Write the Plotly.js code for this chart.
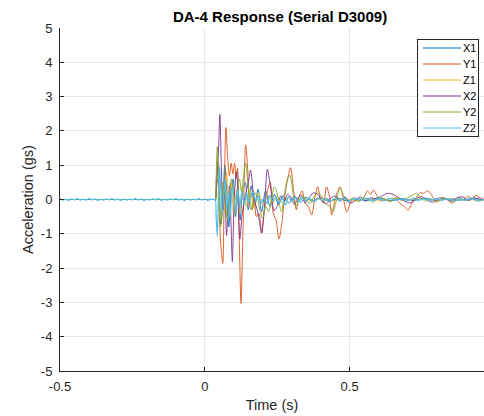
<!DOCTYPE html>
<html>
<head>
<meta charset="utf-8">
<script src="https://cdn.plot.ly/plotly-3.0.1.min.js"></script>
<style>html,body{margin:0;padding:0;background:#fff;}#chart{width:484px;height:416px;}</style>
</head>
<body>
<div id="chart"></div>
<script>
// ---- data ----
var seriesNames = ['X1', 'Y1', 'Z1', 'X2', 'Y2', 'Z2'];
var seriesColors = ['#0072BD', '#D95319', '#EDB120', '#7E2F8E', '#77AC30', '#4DBEEE'];

var xTickVals = [-0.5, 0, 0.5];
var xTickText = ['-0.5', '0', '0.5'];
var yTickVals = [-5, -4, -3, -2, -1, 0, 1, 2, 3, 4, 5];
var yTickText = ['-5', '-4', '-3', '-2', '-1', '0', '1', '2', '3', '4', '5'];

var tX1 = [-0.5, 0.0, 0.030, 0.036, 0.040, 0.045, 0.050, 0.056, 0.062, 0.069, 0.076, 0.083, 0.090, 0.098, 0.106, 0.114, 0.122, 0.130, 0.140, 0.150, 0.160, 0.172, 0.184, 0.196, 0.210, 0.225, 0.240, 0.255, 0.270, 0.290, 0.310, 0.330, 0.350, 0.375, 0.400, 0.430, 0.460, 0.490, 0.520, 0.560, 0.600, 0.640, 0.680, 0.720, 0.760, 0.800, 0.840, 0.880, 0.920, 0.960];
var yX1 = [0, 0, 0, 0, 0.6, 1.1, 0.3, -0.7, -0.2, 1.0, 0.2, -0.8, 0.1, 0.6, -0.5, 0.4, -0.6, 0.2, 0.5, -0.3, 0.4, -0.2, 0.3, -0.35, 0.25, -0.2, 0.15, -0.15, 0.12, -0.1, 0.1, -0.08, 0.06, -0.06, 0.05, -0.05, 0.04, -0.04, 0.03, -0.03, 0.05, -0.04, 0.03, -0.03, 0.04, -0.03, 0.02, -0.02, 0.03, 0];

var tY1 = [-0.5, 0.0, 0.030, 0.036, 0.040, 0.045, 0.050, 0.056, 0.062, 0.067, 0.073, 0.079, 0.085, 0.091, 0.097, 0.103, 0.108, 0.113, 0.119, 0.125, 0.132, 0.141, 0.148, 0.155, 0.162, 0.170, 0.178, 0.187, 0.196, 0.206, 0.216, 0.226, 0.236, 0.246, 0.256, 0.266, 0.276, 0.286, 0.296, 0.306, 0.316, 0.326, 0.336, 0.346, 0.357, 0.369, 0.380, 0.390, 0.400, 0.410, 0.420, 0.430, 0.438, 0.447, 0.457, 0.467, 0.478, 0.490, 0.503, 0.517, 0.532, 0.548, 0.562, 0.572, 0.582, 0.594, 0.608, 0.624, 0.640, 0.656, 0.672, 0.688, 0.702, 0.716, 0.730, 0.744, 0.756, 0.768, 0.780, 0.792, 0.806, 0.822, 0.838, 0.852, 0.866, 0.880, 0.894, 0.908, 0.922, 0.936, 0.950, 0.966];
var yY1 = [0, 0, 0, 0, 0.4, 0.6, -0.5, -1.4, -1.86, 0.2, 2.1, 1.2, 0.7, 1.06, 0.75, 1.06, 0.6, 0.92, -1.2, -3.03, -0.8, 1.59, 0.9, -0.2, -0.3, 0.1, -0.5, -0.4, -0.98, -0.3, 0.25, 0.5, -0.4, -0.6, -1.15, -0.7, 0.1, 0.6, 0.93, 0.3, -0.3, 0.1, 0.25, -0.1, -0.2, -0.45, 0.05, 0.37, 0.0, -0.1, 0.37, 0.1, -0.45, -0.1, 0.2, 0.37, 0.05, -0.36, -0.1, 0.05, -0.05, 0.05, 0.25, 0.15, 0.28, 0.12, -0.05, 0.0, -0.05, 0.05, -0.1, -0.2, -0.31, -0.1, 0.05, 0.2, 0.18, 0.25, 0.18, 0.0, -0.05, 0.05, 0.0, -0.1, -0.05, 0.05, 0.0, 0.1, 0.02, 0.12, 0.05, 0.0];

var tZ1 = [-0.5, 0.0, 0.030, 0.036, 0.040, 0.044, 0.049, 0.055, 0.061, 0.068, 0.075, 0.083, 0.091, 0.100, 0.110, 0.120, 0.131, 0.143, 0.156, 0.170, 0.185, 0.200, 0.216, 0.233, 0.250, 0.270, 0.290, 0.315, 0.340, 0.370, 0.400, 0.440, 0.480, 0.520, 0.560, 0.600, 0.650, 0.700, 0.750, 0.800, 0.850, 0.900, 0.966];
var yZ1 = [0, 0, 0, 0, 0.5, 1.25, 0.4, -0.6, 0.5, -0.4, 0.8, -0.3, 0.5, -0.5, 0.3, -0.4, 0.4, -0.2, 0.3, -0.25, 0.2, -0.15, 0.15, -0.12, 0.1, -0.1, 0.08, -0.06, 0.05, -0.05, 0.04, -0.03, 0.03, -0.03, 0.02, -0.02, 0.03, -0.02, 0.02, -0.02, 0.02, -0.01, 0];

var tX2 = [-0.5, 0.0, 0.030, 0.036, 0.040, 0.044, 0.048, 0.052, 0.057, 0.063, 0.069, 0.075, 0.080, 0.085, 0.090, 0.095, 0.100, 0.105, 0.110, 0.116, 0.121, 0.128, 0.135, 0.142, 0.150, 0.158, 0.166, 0.174, 0.181, 0.188, 0.196, 0.206, 0.216, 0.228, 0.239, 0.250, 0.262, 0.274, 0.286, 0.298, 0.310, 0.322, 0.334, 0.346, 0.360, 0.374, 0.390, 0.405, 0.420, 0.436, 0.452, 0.468, 0.484, 0.500, 0.518, 0.536, 0.554, 0.572, 0.590, 0.610, 0.630, 0.650, 0.670, 0.690, 0.710, 0.730, 0.750, 0.770, 0.790, 0.810, 0.830, 0.850, 0.870, 0.890, 0.910, 0.930, 0.950, 0.966];
var yX2 = [0, 0, 0, 0, 0.3, 0.9, 1.6, 2.48, 1.0, -0.3, 0.2, -1.05, -0.3, 0.4, -0.6, -1.81, -0.4, 0.5, 0.81, -0.3, -1.15, -0.5, -0.1, 0.2, 0.5, 0.86, 0.3, -0.1, -0.31, -0.6, -0.98, -0.2, 0.88, 0.3, -0.33, -0.2, 0.1, -0.05, 0.15, 0.05, -0.15, 0.05, 0.12, -0.1, 0.05, 0.19, 0.15, -0.05, -0.12, 0.05, 0.1, -0.05, 0.08, -0.1, -0.05, 0.08, -0.05, 0.05, 0.02, 0.1, 0.18, 0.15, 0.05, -0.05, -0.1, 0.03, 0.08, -0.03, -0.08, 0.05, 0.02, -0.05, 0.05, 0.08, -0.03, 0.05, 0.0, 0.0];

var tY2 = [-0.5, 0.0, 0.030, 0.036, 0.039, 0.043, 0.047, 0.051, 0.055, 0.060, 0.066, 0.072, 0.078, 0.085, 0.092, 0.099, 0.106, 0.113, 0.120, 0.127, 0.134, 0.141, 0.148, 0.156, 0.164, 0.172, 0.180, 0.190, 0.200, 0.210, 0.220, 0.230, 0.240, 0.248, 0.256, 0.265, 0.274, 0.284, 0.294, 0.304, 0.314, 0.326, 0.338, 0.350, 0.364, 0.378, 0.392, 0.406, 0.420, 0.432, 0.443, 0.455, 0.467, 0.480, 0.495, 0.510, 0.528, 0.546, 0.564, 0.582, 0.600, 0.620, 0.640, 0.660, 0.680, 0.700, 0.716, 0.731, 0.746, 0.762, 0.780, 0.800, 0.820, 0.840, 0.860, 0.880, 0.900, 0.920, 0.940, 0.966];
var yY2 = [0, 0, 0, 0, 0.6, 1.54, 0.5, -0.3, -0.79, 0.1, 0.5, -0.2, -0.6, 0.2, 0.6, 0.1, -0.4, 0.3, 0.6, 0.2, 0.7, 1.06, 0.5, 0.0, -0.3, 0.2, 0.1, -0.3, -0.55, -0.2, -0.35, 0.0, 0.37, 0.25, -0.1, -0.36, 0.1, 0.55, 0.71, 0.2, -0.2, 0.0, 0.15, -0.05, -0.1, 0.1, 0.2, 0.05, -0.15, -0.2, -0.36, 0.0, 0.33, 0.1, -0.08, 0.05, -0.05, 0.05, 0.0, -0.08, 0.05, 0.02, -0.05, 0.05, -0.03, 0.05, 0.12, 0.18, 0.05, -0.05, 0.02, -0.08, 0.05, 0.0, -0.05, 0.05, -0.03, 0.05, -0.05, 0.0];

// Z2 before the impact (sensor noise) and after it
var tZ2Pre = [-0.50, -0.49, -0.48, -0.47, -0.46, -0.45, -0.44, -0.43, -0.42, -0.41, -0.40, -0.39, -0.38, -0.37, -0.36, -0.35, -0.34, -0.33, -0.32, -0.31, -0.30, -0.29, -0.28, -0.27, -0.26, -0.25, -0.24, -0.23, -0.22, -0.21, -0.20, -0.19, -0.18, -0.17, -0.16, -0.15, -0.14, -0.13, -0.12, -0.11, -0.10, -0.09, -0.08, -0.07, -0.06, -0.05, -0.04, -0.03, -0.02, -0.01, 0.00, 0.01, 0.02, 0.03];
var yZ2Pre = [0.02, -0.02, 0.01, -0.03, 0.02, -0.01, 0.03, -0.02, 0.01, -0.02, 0.03, -0.01, 0.02, -0.03, 0.01, -0.02, 0.02, -0.01, 0.03, -0.02, 0.01, -0.03, 0.02, -0.02, 0.01, -0.01, 0.03, -0.02, 0.02, -0.03, 0.01, -0.02, 0.02, -0.01, 0.03, -0.03, 0.01, -0.02, 0.02, -0.01, 0.03, -0.02, 0.01, -0.03, 0.02, -0.02, 0.01, -0.01, 0.03, -0.02, 0.02, -0.03, 0.01, 0.0];
var tZ2 = [0.030, 0.036, 0.039, 0.043, 0.047, 0.051, 0.055, 0.060, 0.065, 0.070, 0.076, 0.082, 0.088, 0.094, 0.100, 0.107, 0.114, 0.121, 0.128, 0.136, 0.144, 0.152, 0.160, 0.168, 0.176, 0.185, 0.194, 0.204, 0.214, 0.224, 0.234, 0.245, 0.256, 0.267, 0.278, 0.289, 0.300, 0.312, 0.324, 0.336, 0.348, 0.360, 0.375, 0.390, 0.405, 0.420, 0.435, 0.450, 0.465, 0.480, 0.500, 0.520, 0.540, 0.560, 0.580, 0.600, 0.620, 0.640, 0.660, 0.680, 0.700, 0.720, 0.740, 0.760, 0.780, 0.800, 0.820, 0.840, 0.860, 0.880, 0.900, 0.920, 0.940, 0.966];
var yZ2 = [0, 0, -0.5, -1.08, 0.2, 0.96, 0.3, -0.45, 0.1, 0.6, -0.3, 0.2, -0.5, 0.35, 0.1, -0.4, 0.3, -0.2, 0.25, -0.15, 0.2, -0.1, 0.15, 0.19, -0.05, 0.1, -0.1, 0.05, -0.12, 0.12, -0.05, 0.08, -0.1, 0.05, -0.16, 0.08, -0.05, 0.06, -0.06, 0.05, -0.04, 0.04, -0.05, 0.05, -0.03, 0.03, -0.04, 0.04, -0.03, 0.03, -0.03, 0.03, -0.02, 0.03, -0.03, 0.02, -0.03, 0.03, -0.02, 0.02, -0.03, 0.03, -0.02, 0.02, -0.02, 0.03, -0.02, 0.02, -0.03, 0.02, -0.02, 0.03, -0.02, 0.0];

// ---- build traces ----
var xs = [tX1, tY1, tZ1, tX2, tY2, tZ2];
var ys = [yX1, yY1, yZ1, yX2, yY2, yZ2];
var traces = seriesNames.map(function (n, i) {
  return {
    type: 'scatter', mode: 'lines', name: n, legendgroup: n, x: xs[i], y: ys[i],
    line: {color: seriesColors[i], width: i === 5 ? 1.2 : 0.9, shape: 'spline', smoothing: 0.8}
  };
});
traces.push({
  type: 'scatter', mode: 'lines', name: seriesNames[5], legendgroup: seriesNames[5], showlegend: false,
  x: tZ2Pre, y: yZ2Pre, line: {color: seriesColors[5], width: 1.2, shape: 'linear'}
});

var FONT = 'Liberation Sans, Arial, Helvetica, sans-serif';
var layout = {
  width: 484, height: 416,
  margin: {l: 60, r: 0, t: 28, b: 45, pad: 0},
  paper_bgcolor: '#ffffff', plot_bgcolor: '#ffffff',
  font: {family: FONT, color: '#262626', size: 13},
  title: {
    text: 'DA-4 Response (Serial D3009)',
    font: {family: FONT, size: 15, weight: 'bold', color: '#000000'},
    xref: 'container', x: 280 / 484, xanchor: 'center',
    yref: 'container', y: 1 - 17 / 416, yanchor: 'middle'
  },
  xaxis: {
    range: [-0.5, 0.964], tickmode: 'array', tickvals: xTickVals, ticktext: xTickText,
    ticks: 'inside', ticklen: 4, tickcolor: '#262626',
    showline: true, linecolor: '#262626', linewidth: 1, mirror: false,
    showgrid: true, gridcolor: '#e6e6e6', gridwidth: 1, zeroline: false,
    tickfont: {family: FONT, size: 13, color: '#262626'},
    ticklabelstandoff: 3,
    title: {text: 'Time (s)', font: {family: FONT, size: 14.5, color: '#262626'}, standoff: 7}
  },
  yaxis: {
    range: [-5, 5], tickmode: 'array', tickvals: yTickVals, ticktext: yTickText,
    ticks: 'inside', ticklen: 4, tickcolor: '#262626',
    showline: true, linecolor: '#262626', linewidth: 1, mirror: false,
    showgrid: true, gridcolor: '#e6e6e6', gridwidth: 1, zeroline: false,
    tickfont: {family: FONT, size: 13, color: '#262626'},
    ticklabelstandoff: 4,
    title: {text: 'Acceleration (gs)', font: {family: FONT, size: 14.5, color: '#262626'}, standoff: 3}
  },
  showlegend: true,
  legend: {
    x: 0.986, xanchor: 'right', xref: 'paper', y: 0.968, yanchor: 'top', yref: 'paper',
    bgcolor: '#ffffff', bordercolor: '#262626', borderwidth: 1,
    font: {family: FONT, size: 11, color: '#000000'},
    tracegroupgap: 0
  }
};

var gd = document.getElementById('chart');
Plotly.newPlot(gd, traces, layout, {displayModeBar: false, staticPlot: true}).then(function () {
  // tighten the legend to the compact MATLAB-style box
  try {
    var leg = gd.querySelector('.legend');
    var boxW = 61, boxH = 97, step = 16, first = 9;
    leg.setAttribute('transform', 'translate(417,39)');
    var bg = leg.querySelector('rect.bg');
    bg.setAttribute('width', boxW); bg.setAttribute('height', boxH);
    bg.setAttribute('x', 0.5); bg.setAttribute('y', 0.5);
    var sb = leg.querySelector('.scrollbox');
    if (sb) sb.setAttribute('transform', 'translate(0,0)');
    var items = leg.querySelectorAll('.traces');
    items.forEach(function (it, i) {
      it.setAttribute('transform', 'translate(0,' + (first + i * step) + ')');
      it.querySelectorAll('.legendlines path').forEach(function (p) {
        p.setAttribute('d', 'M6,0h38');
        p.style.stroke = seriesColors[i];
        p.style.strokeWidth = '1px';
      });
      var tx = it.querySelector('text.legendtext');
      if (tx) tx.setAttribute('x', 46);
    });
  } catch (e) {}
});
</script>
</body>
</html>
